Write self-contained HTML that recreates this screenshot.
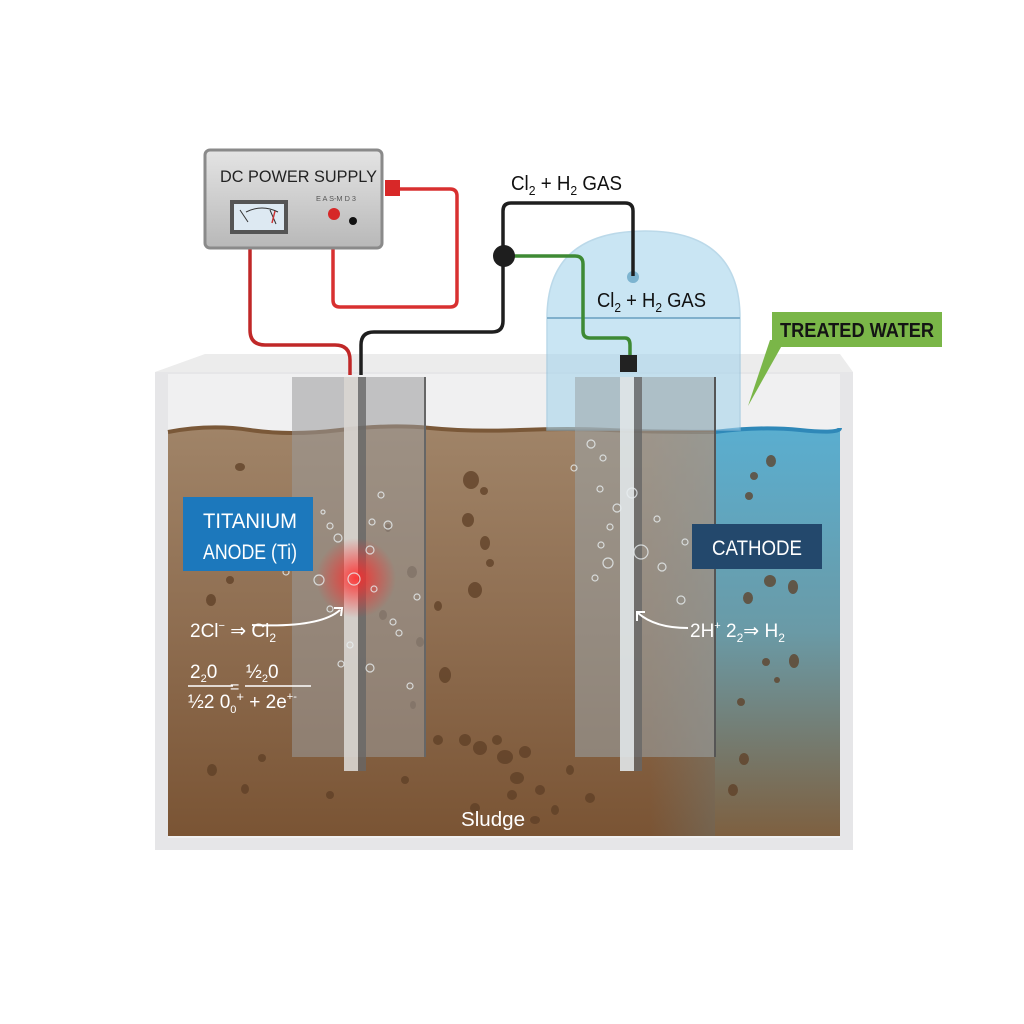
<!DOCTYPE html>
<html><head><meta charset="utf-8"><style>
html,body{margin:0;padding:0;background:#fff;width:1024px;height:1024px;overflow:hidden}
text{font-family:"Liberation Sans Narrow","Liberation Sans",sans-serif}
</style></head><body>
<svg width="1024" height="1024" viewBox="0 0 1024 1024" xmlns="http://www.w3.org/2000/svg">
<defs>
<linearGradient id="mud" x1="0" y1="0" x2="0" y2="1">
<stop offset="0" stop-color="#a08468"/><stop offset="0.5" stop-color="#8e6d50"/><stop offset="1" stop-color="#7a5434"/>
</linearGradient>
<linearGradient id="wat" x1="0" y1="0" x2="0" y2="1">
<stop offset="0" stop-color="#5aaed0"/><stop offset="0.5" stop-color="#6a9aa6"/><stop offset="1" stop-color="#7e6040"/>
</linearGradient>
<linearGradient id="blend" x1="0" y1="0" x2="1" y2="0">
<stop offset="0" stop-color="#5aaed0" stop-opacity="0"/><stop offset="1" stop-color="#5aaed0" stop-opacity="1"/>
</linearGradient>
<radialGradient id="glow"><stop offset="0" stop-color="#ff2a2a" stop-opacity="0.9"/><stop offset="1" stop-color="#ff2a2a" stop-opacity="0"/></radialGradient>
<linearGradient id="ps" x1="0" y1="0" x2="0" y2="1"><stop offset="0" stop-color="#e4e4e4"/><stop offset="1" stop-color="#b8b8b8"/></linearGradient>
</defs>
<polygon points="155,372 205,354 840,354 853,372" fill="#ececec"/>
<rect x="155" y="372" width="698" height="478" fill="#e6e6e8"/>
<rect x="168" y="374" width="672" height="464" fill="#f0f0f1"/>
<path d="M168,432 Q210,424 250,430 T340,430 T430,428 T520,430 T610,430 T715,432 L715,836 L168,836 Z" fill="url(#mud)"/>
<path d="M168,432 Q210,424 250,430 T340,430 T430,428 T520,430 T610,430 T715,432" fill="none" stroke="#7a5838" stroke-width="4"/>
<rect x="650" y="432" width="190" height="404" fill="url(#blend)" opacity="0.5"/>
<path d="M715,432 Q760,426 800,430 T840,428 L840,836 L715,836 Z" fill="url(#wat)"/>
<path d="M715,432 Q760,426 800,430 T840,428" fill="none" stroke="#2f88b8" stroke-width="4"/>
<g fill="#5e3f26" opacity="0.75">
<ellipse cx="240" cy="467" rx="5" ry="4"/><ellipse cx="471" cy="480" rx="8" ry="9"/><ellipse cx="484" cy="491" rx="4" ry="4"/>
<ellipse cx="388" cy="528" rx="3" ry="4"/><ellipse cx="468" cy="520" rx="6" ry="7"/><ellipse cx="412" cy="572" rx="5" ry="6"/>
<ellipse cx="485" cy="543" rx="5" ry="7"/><ellipse cx="490" cy="563" rx="4" ry="4"/><ellipse cx="475" cy="590" rx="7" ry="8"/>
<ellipse cx="383" cy="615" rx="4" ry="5"/><ellipse cx="438" cy="606" rx="4" ry="5"/><ellipse cx="420" cy="642" rx="4" ry="5"/>
<ellipse cx="438" cy="740" rx="5" ry="5"/><ellipse cx="465" cy="740" rx="6" ry="6"/><ellipse cx="480" cy="748" rx="7" ry="7"/>
<ellipse cx="497" cy="740" rx="5" ry="5"/><ellipse cx="505" cy="757" rx="8" ry="7"/><ellipse cx="525" cy="752" rx="6" ry="6"/>
<ellipse cx="517" cy="778" rx="7" ry="6"/><ellipse cx="540" cy="790" rx="5" ry="5"/><ellipse cx="512" cy="795" rx="5" ry="5"/>
<ellipse cx="405" cy="780" rx="4" ry="4"/><ellipse cx="570" cy="770" rx="4" ry="5"/><ellipse cx="590" cy="798" rx="5" ry="5"/>
<ellipse cx="555" cy="810" rx="4" ry="5"/><ellipse cx="475" cy="808" rx="5" ry="5"/><ellipse cx="535" cy="820" rx="5" ry="4"/>
<ellipse cx="212" cy="770" rx="5" ry="6"/><ellipse cx="262" cy="758" rx="4" ry="4"/><ellipse cx="211" cy="600" rx="5" ry="6"/>
<ellipse cx="230" cy="580" rx="4" ry="4"/><ellipse cx="245" cy="789" rx="4" ry="5"/><ellipse cx="330" cy="795" rx="4" ry="4"/>
<ellipse cx="445" cy="675" rx="6" ry="8"/><ellipse cx="413" cy="705" rx="3" ry="4"/><ellipse cx="733" cy="790" rx="5" ry="6"/>
<ellipse cx="741" cy="702" rx="4" ry="4"/><ellipse cx="771" cy="461" rx="5" ry="6"/><ellipse cx="754" cy="476" rx="4" ry="4"/>
<ellipse cx="749" cy="496" rx="4" ry="4"/><ellipse cx="770" cy="581" rx="6" ry="6"/><ellipse cx="793" cy="587" rx="5" ry="7"/>
<ellipse cx="748" cy="598" rx="5" ry="6"/><ellipse cx="766" cy="662" rx="4" ry="4"/><ellipse cx="794" cy="661" rx="5" ry="7"/>
<ellipse cx="777" cy="680" rx="3" ry="3"/><ellipse cx="744" cy="759" rx="5" ry="6"/>
</g>
<path d="M547,430 L547,318 Q547,231 645,231 Q740,231 740,318 L740,430 Z" fill="#a6d4ec" opacity="0.6" stroke="#8fc0dc" stroke-width="1.5"/>
<line x1="547" y1="318" x2="740" y2="318" stroke="#80b0cc" stroke-width="2"/>
<circle cx="633" cy="277" r="6" fill="#7db4d0"/>
<rect x="292" y="377" width="133" height="380" fill="#9a9a9a" opacity="0.55"/>
<line x1="425" y1="377" x2="425" y2="757" stroke="#666" stroke-width="2"/>
<rect x="344" y="377" width="14" height="394" fill="#d9d6d2" opacity="0.9"/>
<rect x="358" y="377" width="8" height="394" fill="#666" opacity="0.8"/>
<circle cx="356" cy="578" r="40" fill="url(#glow)"/>
<rect x="575" y="377" width="140" height="380" fill="#9aa4a8" opacity="0.55"/>
<line x1="715" y1="377" x2="715" y2="757" stroke="#555" stroke-width="2"/>
<rect x="620" y="377" width="14" height="394" fill="#e0e6e8" opacity="0.9"/>
<rect x="634" y="377" width="8" height="394" fill="#666" opacity="0.8"/>
<g fill="none" stroke="#e8eef0" stroke-width="1.2" opacity="0.8">
<circle cx="330" cy="526" r="3"/><circle cx="338" cy="538" r="4"/><circle cx="286" cy="572" r="3"/><circle cx="319" cy="580" r="5"/>
<circle cx="305" cy="565" r="3"/><circle cx="354" cy="579" r="6"/><circle cx="370" cy="550" r="4"/><circle cx="381" cy="495" r="3"/>
<circle cx="372" cy="522" r="3"/><circle cx="388" cy="525" r="4"/><circle cx="374" cy="589" r="3"/><circle cx="393" cy="622" r="3"/>
<circle cx="399" cy="633" r="3"/><circle cx="350" cy="645" r="3"/><circle cx="323" cy="512" r="2"/><circle cx="417" cy="597" r="3"/>
<circle cx="410" cy="686" r="3"/><circle cx="341" cy="664" r="3"/><circle cx="370" cy="668" r="4"/><circle cx="330" cy="609" r="3"/>
<circle cx="600" cy="489" r="3"/><circle cx="617" cy="508" r="4"/><circle cx="601" cy="545" r="3"/><circle cx="608" cy="563" r="5"/>
<circle cx="641" cy="552" r="7"/><circle cx="632" cy="493" r="5"/><circle cx="662" cy="567" r="4"/><circle cx="595" cy="578" r="3"/>
<circle cx="610" cy="527" r="3"/><circle cx="657" cy="519" r="3"/><circle cx="685" cy="542" r="3"/><circle cx="681" cy="600" r="4"/>
<circle cx="591" cy="444" r="4"/><circle cx="603" cy="458" r="3"/><circle cx="574" cy="468" r="3"/>
</g>
<path d="M250,248 L250,330 Q250,345 265,345 L335,345 Q350,345 350,360 L350,375" fill="none" stroke="#c02828" stroke-width="3.5"/>
<path d="M333,218 L333,300 Q333,307 340,307 L450,307 Q457,307 457,300 L457,196 Q457,189 450,189 L395,189" fill="none" stroke="#d83030" stroke-width="3.5"/>
<rect x="385" y="180" width="15" height="16" fill="#d82828"/>
<path d="M361,375 L361,345 Q361,332 374,332 L492,332 Q503,332 503,321 L503,211 Q503,203 511,203 L625,203 Q633,203 633,211 L633,276" fill="none" stroke="#1e1e1e" stroke-width="3.5"/>
<path d="M503,256 L575,256 Q583,256 583,264 L583,331 Q583,338 590,338 L625,338 Q630,338 630,345 L630,357" fill="none" stroke="#3e8a34" stroke-width="3.5"/>
<circle cx="504" cy="256" r="11" fill="#1e1e1e"/>
<rect x="620" y="355" width="17" height="17" fill="#222"/>
<rect x="205" y="150" width="177" height="98" rx="5" fill="url(#ps)" stroke="#8a8a8a" stroke-width="3"/>
<text x="220" y="182" font-size="17" fill="#222" textLength="157" lengthAdjust="spacingAndGlyphs">DC POWER SUPPLY</text>
<text x="316" y="201" font-size="7" fill="#555" textLength="40" lengthAdjust="spacingAndGlyphs">E A S-M D 3</text>
<rect x="230" y="200" width="58" height="34" fill="#555"/>
<rect x="234" y="204" width="50" height="26" fill="#dde9f2"/>
<path d="M240,210 L248,222 M270,210 L276,224 M246,212 Q262,204 278,212" stroke="#333" stroke-width="1" fill="none"/>
<line x1="275" y1="211" x2="272" y2="223" stroke="#c33" stroke-width="1.5"/>
<circle cx="334" cy="214" r="6" fill="#d62828"/>
<circle cx="353" cy="221" r="4" fill="#111"/>
<text x="511" y="190" font-size="20" fill="#111" textLength="111" lengthAdjust="spacingAndGlyphs">Cl<tspan font-size="13" dy="5">2</tspan><tspan dy="-5"> + H</tspan><tspan font-size="13" dy="5">2</tspan><tspan dy="-5"> GAS</tspan></text>
<text x="597" y="307" font-size="20" fill="#111" textLength="109" lengthAdjust="spacingAndGlyphs">Cl<tspan font-size="13" dy="5">2</tspan><tspan dy="-5"> + H</tspan><tspan font-size="13" dy="5">2</tspan><tspan dy="-5"> GAS</tspan></text>
<polygon points="770,340 785,340 748,406" fill="#7ab648"/>
<rect x="772" y="312" width="170" height="35" fill="#7ab648"/>
<text x="780" y="337" font-size="20" fill="#141414" font-weight="bold" textLength="154" lengthAdjust="spacingAndGlyphs">TREATED WATER</text>
<rect x="183" y="497" width="130" height="74" fill="#1c78bc"/>
<text x="203" y="528" font-size="21" fill="#fff" textLength="94" lengthAdjust="spacingAndGlyphs">TITANIUM</text>
<text x="203" y="559" font-size="21" fill="#fff" textLength="94" lengthAdjust="spacingAndGlyphs">ANODE (Ti)</text>
<rect x="692" y="524" width="130" height="45" fill="#23486c"/>
<text x="712" y="555" font-size="21" fill="#fff" textLength="90" lengthAdjust="spacingAndGlyphs">CATHODE</text>
<text x="190" y="637" font-size="19" fill="#fff">2Cl<tspan font-size="11" dy="-8">−</tspan><tspan dy="8"> ⇒ Cl</tspan><tspan font-size="12" dy="5">2</tspan></text>
<path d="M252,625 Q320,628 340,610" fill="none" stroke="#fff" stroke-width="2"/>
<path d="M334,608 L342,608 L341,616" fill="none" stroke="#fff" stroke-width="2"/>
<text x="690" y="637" font-size="19" fill="#fff">2H<tspan font-size="11" dy="-8">+</tspan><tspan dy="8"> 2</tspan><tspan font-size="12" dy="5">2</tspan><tspan dy="-5">⇒ H</tspan><tspan font-size="12" dy="5">2</tspan></text>
<path d="M688,628 Q655,628 638,613" fill="none" stroke="#fff" stroke-width="2"/>
<path d="M637,621 L637,612 L645,612" fill="none" stroke="#fff" stroke-width="2"/>
<text x="190" y="678" font-size="19" fill="#fff">2<tspan font-size="11" dy="4">2</tspan><tspan dy="-4">0</tspan></text>
<text x="230" y="692" font-size="16" fill="#fff">=</text>
<text x="246" y="678" font-size="19" fill="#fff">½<tspan font-size="11" dy="4">2</tspan><tspan dy="-4">0</tspan></text>
<line x1="188" y1="686" x2="233" y2="686" stroke="#fff" stroke-width="1.5"/>
<line x1="245" y1="686" x2="311" y2="686" stroke="#fff" stroke-width="1.5"/>
<text x="188" y="708" font-size="19" fill="#fff">½2 0<tspan font-size="11" dy="5">0</tspan><tspan font-size="13" dy="-12">+</tspan><tspan dy="7"> + 2e</tspan><tspan font-size="11" dy="-8">+-</tspan></text>
<text x="461" y="826" font-size="20" fill="#fff" textLength="64" lengthAdjust="spacingAndGlyphs">Sludge</text>
</svg>
</body></html>
